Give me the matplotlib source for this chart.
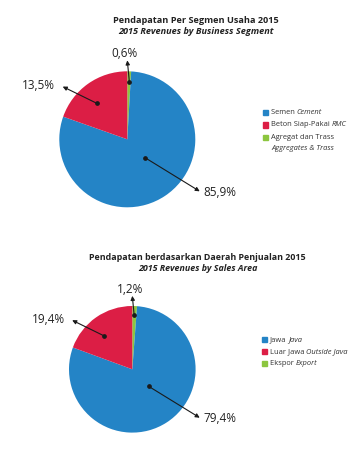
import matplotlib
matplotlib.use('Agg')
import matplotlib.pyplot as plt

plt.rcParams['font.family'] = ['Open Sans', 'DejaVu Sans']

W, H = 356, 451

# chart 1: revenue by business segment
segment_local = ['Semen ', 'Beton Siap-Pakai ', 'Agregat dan Trass']
segment_english = ['Cement', 'RMC', 'Aggregates & Trass']
segment_labels = ['85,9%', '13,5%', '0,6%']
segment_slices = [79.5, 19.6, 0.9]   # slice sizes as drawn in the picture

# chart 2: revenue by sales area
area_local = ['Jawa ', 'Luar Jawa ', 'Ekspor ']
area_english = ['Java', 'Outside Java', 'Export']
area_labels = ['79,4%', '19,4%', '1,2%']
area_slices = [79.4, 19.4, 1.2]

colors = ['#2484c6', '#dc1e45', '#8cc63f']

# dot inside slice, arrow tip, label anchor (in pie radius units)
dot_pos = [(0.26, -0.27), (-0.45, 0.53), (0.03, 0.85)]
tip_pos = [(1.065, -0.765), (-0.95, 0.775), (0.0, 1.16)]
lab_pos = [(1.12, -0.785, 'left'), (-1.06, 0.787, 'right'), (-0.04, 1.265, 'center')]


def draw_pie(fig, cx, cy, r, slices, labels):
    ax = fig.add_axes([(cx - r) / W, 1 - (cy + r) / H, 2 * r / W, 2 * r / H])
    order = [2, 0, 1]  # small slice first, clockwise from 12 o'clock
    ax.pie([slices[i] for i in order], colors=[colors[i] for i in order],
           startangle=90, counterclock=False, radius=1,
           wedgeprops=dict(linewidth=0))
    ax.set_xlim(-1, 1)
    ax.set_ylim(-1, 1)
    ax.axis('off')
    for i in range(3):
        ax.annotate('', xy=tip_pos[i], xytext=dot_pos[i], annotation_clip=False,
                    arrowprops=dict(arrowstyle='-|>', color='#1a1a1a', lw=0.8,
                                    mutation_scale=6, shrinkA=0, shrinkB=0))
        ax.plot(*dot_pos[i], 'o', color='#1a1a1a', markersize=2.4)
        x, y, ha = lab_pos[i]
        ax.text(x, y, labels[i], ha=ha, va='center', fontsize=8.5, color='#222222',
                clip_on=False)
    return ax


def legend_row(ax, x, y, color, local, english, box=True):
    if box:
        ax.add_patch(plt.Rectangle((x, y - 2.8), 5.6, 5.6, color=color))
    t = ax.text(x + 8.5, y, local, fontsize=5.4, va='center', color='#333333')
    ax.annotate(english, xy=(1, 0.5), xycoords=t, va='center', fontsize=5.4,
                style='italic', color='#333333')


fig = plt.figure(figsize=(W / 100, H / 100), dpi=100)
bg = fig.add_axes([0, 0, 1, 1])
bg.set_xlim(0, W)
bg.set_ylim(H, 0)
bg.axis('off')

# chart 1
bg.text(196, 20.5, 'Pendapatan Per Segmen Usaha 2015', ha='center', va='center',
        fontsize=6.6, fontweight='bold', color='#222222')
bg.text(196, 32, '2015 Revenues by Business Segment', ha='center', va='center',
        fontsize=6.6, fontweight='bold', style='italic', color='#222222')
draw_pie(fig, 127.3, 139.3, 68, segment_slices, segment_labels)
rows1 = [112.7, 125, 137.3]
legend_row(bg, 262.5, rows1[0], colors[0], segment_local[0], segment_english[0])
legend_row(bg, 262.5, rows1[1], colors[1], segment_local[1], segment_english[1])
legend_row(bg, 262.5, rows1[2], colors[2], segment_local[2], '')
bg.text(271, 148.5, segment_english[2], fontsize=5.4, va='center', style='italic',
        color='#333333')

# chart 2
bg.text(197.5, 257.3, 'Pendapatan berdasarkan Daerah Penjualan 2015', ha='center',
        va='center', fontsize=6.4, fontweight='bold', color='#222222')
bg.text(197.5, 268.3, '2015 Revenues by Sales Area', ha='center', va='center',
        fontsize=6.4, fontweight='bold', style='italic', color='#222222')
draw_pie(fig, 132.3, 369.3, 63.3, area_slices, area_labels)
rows2 = [339.5, 351.3, 363.3]
for i in range(3):
    legend_row(bg, 261.5, rows2[i], colors[i], area_local[i], area_english[i])

fig.savefig('out.png', dpi=100)
